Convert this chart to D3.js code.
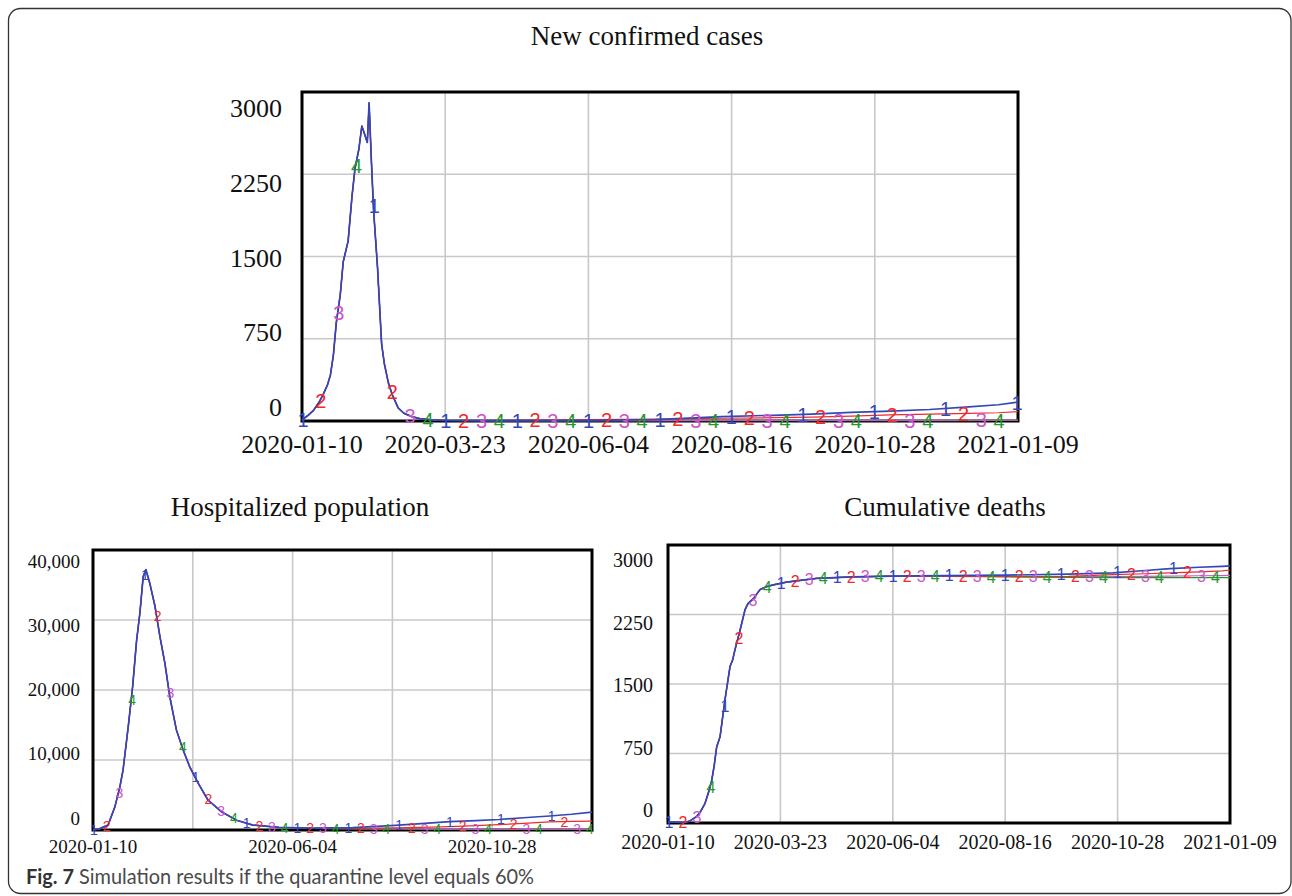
<!DOCTYPE html>
<html><head><meta charset="utf-8">
<script src="https://cdn.jsdelivr.net/npm/d3@7"></script>
<style>body{margin:0;background:#fff}svg{display:block}</style>
</head><body>
<svg id="c" width="1292" height="896"></svg>
<script>
// ---------------- DATA ----------------
const xTickLabels = ["2020-01-10","2020-03-23","2020-06-04","2020-08-16","2020-10-28","2021-01-09"];
const xTickDays = [0,73,146,219,292,365];
const hospXTickLabels = ["2020-01-10","2020-06-04","2020-10-28"];
const hospXTickDays = [0,146,292];
const seriesNames = ["1","2","3","4"];

// New confirmed cases
const casesTicks = [0,750,1500,2250,3000];
const casesEarlyDays = [0,3,6,9,11,13,14.5,16,17.5,19.5,21,23.5,25.5,27,29,30.5,32,33.3,34.2,35.3,36.5,38.5,40.6,42,44,46,49,52,56,60,65];
const casesEarly     = [10,50,100,180,250,330,420,600,900,1150,1450,1640,2050,2300,2480,2690,2610,2540,2900,2400,1920,1400,700,520,350,240,120,70,40,22,12];
const casesTailDays = [72,100,146,180,214,240,260,280,300,320,340,355,365];
const casesTail1 = [6,4,6,12,40,52,62,78,90,105,128,148,172];
const casesTail2 = [6,4,12,18,25,30,35,45,55,62,70,75,85];
const casesTail3 = [6,4,4,4,5,5,5,6,6,6,7,7,8];
const casesTail4 = [6,4,3,3,3,3,3,4,4,4,4,5,5];

// Hospitalized population
const hospTicks = [0,10000,20000,30000,40000];
const hospEarlyDays = [0,5,11,16,19.7,22,25.8,29,31.9,34.3,36.7,38.7,41.6,45.3,49,52.6,56.2,61,66,70.8,76.9,84,94,105,117];
const hospEarly     = [0,200,700,3300,6200,8600,14800,20500,27100,31000,36200,37200,35200,32000,27600,23800,19000,14300,11400,9000,6700,4300,2600,1400,700];
const hospTailDays = [136,160,190,221,240,261,280,297,315,334,350,365];
const hospTail1 = [380,260,350,650,900,1200,1350,1500,1750,2000,2250,2550];
const hospTail2 = [380,250,230,300,380,480,620,760,950,1150,1220,1260];
const hospTail3 = [380,240,180,150,140,130,130,130,130,130,130,130];
const hospTail4 = [380,240,170,130,110,100,100,100,100,100,100,100];

// Cumulative deaths
const deathTicks = [0,750,1500,2250,3000];
const deathEarlyDays = [0,5,10,14,18.6,21,24,26.5,28.4,30,31.6,33.8,37,40.3,42,43.5,46.8,50,52,55.4,59.8,64,68.4,77,96.5,120];
const deathEarly     = [10,10,5,20,70,120,210,340,460,620,820,930,1330,1690,1760,1870,2080,2300,2370,2420,2520,2550,2570,2600,2640,2655];
const deathTailDays = [146,180,220,260,289,310,326,345,360,365];
const deathTail1 = [2665,2670,2675,2685,2700,2725,2745,2760,2770,2775];
const deathTail2 = [2665,2665,2660,2662,2680,2690,2700,2710,2720,2730];
const deathTail3 = [2665,2665,2660,2660,2660,2662,2665,2668,2670,2672];
const deathTail4 = [2665,2660,2655,2650,2648,2648,2648,2648,2648,2648];

// ---------------- STYLE ----------------
const colors = ["#3447b8","#f02a2a","#cc55cc","#1f9a2a"];
const widths = [1.7,1.2,1.2,1.2];
const serif = "'Liberation Serif','Times New Roman',serif";
const sans = "'Liberation Sans',Arial,sans-serif";

const svg = d3.select("#c");
svg.append("rect").attr("x",8.5).attr("y",8.5).attr("width",1282.5).attr("height",885)
  .attr("rx",12).attr("fill","none").attr("stroke","#333").attr("stroke-width",1.3);

function buildSeries(earlyDays, early, tailDays, tails){
  return tails.map(t => {
    const days = earlyDays.concat(tailDays);
    const vals = early.concat(t);
    return days.map((d,i)=>({d, v: vals[i]}));
  });
}

function chart(cfg){
  const x = d3.scaleLinear().domain([0,365]).range([cfg.l,cfg.r]);
  const y = d3.scaleLinear().domain([0,cfg.yMax]).range([cfg.b,cfg.t]);
  const yLab = d3.scaleLinear().domain([0,cfg.yMax]).range(cfg.labRange);
  const g = svg.append("g");

  g.selectAll(".vg").data(cfg.gridDays.slice(1,-1)).join("line")
    .attr("x1",d=>x(d)).attr("x2",d=>x(d)).attr("y1",cfg.t).attr("y2",cfg.b)
    .attr("stroke","#c8c8c8").attr("stroke-width",1.6);
  g.selectAll(".hg").data(cfg.yTicks.slice(1,-1)).join("line")
    .attr("x1",cfg.l).attr("x2",cfg.r).attr("y1",d=>y(d)).attr("y2",d=>y(d))
    .attr("stroke","#c8c8c8").attr("stroke-width",1.6);

  g.append("rect").attr("x",cfg.l).attr("y",cfg.t).attr("width",cfg.r-cfg.l).attr("height",cfg.b-cfg.t)
    .attr("fill","none").attr("stroke","#000").attr("stroke-width",3);

  const line = d3.line().x(p=>x(p.d)).y(p=>y(p.v));
  [3,2,1,0].forEach(i=>{
    g.append("path").datum(cfg.series[i]).attr("d",line)
      .attr("fill","none").attr("stroke",colors[i]).attr("stroke-width",widths[i])
      .attr("stroke-linejoin","round");
  });

  function valueAt(s, day){
    const bis = d3.bisector(p=>p.d).left;
    const k = bis(s, day);
    if (k<=0) return s[0].v;
    if (k>=s.length) return s[s.length-1].v;
    const a = s[k-1], b = s[k];
    return a.v + (b.v-a.v)*(day-a.d)/(b.d-a.d);
  }
  const marks = [];
  for (let slot=0; slot*cfg.markStep<=cfg.markMax; slot++){
    const i = slot%4;
    const day = slot*cfg.markStep;
    marks.push({i, day, v: valueAt(cfg.series[i], day)});
  }
  g.selectAll(".mk").data(marks).join("text")
    .attr("x",m=>x(m.day)+cfg.markDx).attr("y",m=>y(m.v)).attr("dy","0.36em")
    .attr("text-anchor","middle").attr("font-family",sans).attr("font-size",cfg.markSize)
    .attr("fill",m=>colors[m.i]).text(m=>seriesNames[m.i]);

  g.selectAll(".yl").data(cfg.yTicks).join("text")
    .attr("x",cfg.yLabX).attr("y",d=>yLab(d)).attr("dy","0.35em")
    .attr("text-anchor","end").attr("font-family",serif).attr("font-size",cfg.tickSize)
    .attr("fill","#111").text(d=>cfg.fmt(d));
  g.selectAll(".xl").data(cfg.xLabDays).join("text")
    .attr("x",d=>x(d)).attr("y",cfg.xLabY)
    .attr("text-anchor","middle").attr("font-family",serif).attr("font-size",cfg.tickSize)
    .attr("fill","#111").text((d,i)=>cfg.xLabs[i]);
  g.append("text").attr("x",cfg.titleX).attr("y",cfg.titleY).attr("text-anchor","middle")
    .attr("font-family",serif).attr("font-size",cfg.titleSize).attr("fill","#111").text(cfg.title);
}

chart({
  title:"New confirmed cases", titleX:647, titleY:45, titleSize:27,
  l:302, r:1018, t:92, b:421, yMax:3000, yTicks:casesTicks, labRange:[407,108],
  gridDays:xTickDays, xLabDays:xTickDays, xLabs:xTickLabels, xLabY:453,
  yLabX:282, tickSize:26, fmt:d3.format("d"),
  series: buildSeries(casesEarlyDays, casesEarly, casesTailDays, [casesTail1,casesTail2,casesTail3,casesTail4]),
  markStep:9.1, markMax:364, markSize:20, markDx:1
});

chart({
  title:"Hospitalized population", titleX:300, titleY:516, titleSize:27,
  l:93, r:592, t:550, b:830, yMax:40000, yTicks:hospTicks, labRange:[818,561],
  gridDays:xTickDays, xLabDays:hospXTickDays, xLabs:hospXTickLabels, xLabY:853,
  yLabX:80, tickSize:19, fmt:d3.format(","),
  series: buildSeries(hospEarlyDays, hospEarly, hospTailDays, [hospTail1,hospTail2,hospTail3,hospTail4]),
  markStep:9.3, markMax:365, markSize:14, markDx:1
});

chart({
  title:"Cumulative deaths", titleX:945, titleY:516, titleSize:27,
  l:668, r:1230, t:545, b:823, yMax:3000, yTicks:deathTicks, labRange:[810,560],
  gridDays:xTickDays, xLabDays:xTickDays, xLabs:xTickLabels, xLabY:849,
  yLabX:653, tickSize:20, fmt:d3.format("d"),
  series: buildSeries(deathEarlyDays, deathEarly, deathTailDays, [deathTail1,deathTail2,deathTail3,deathTail4]),
  markStep:9.1, markMax:363, markSize:16, markDx:1
});

const cap = svg.append("text").attr("x",26).attr("y",884)
  .attr("font-family","Lato,'Open Sans',sans-serif").attr("font-size",20.5)
  .attr("textLength",508).attr("lengthAdjust","spacingAndGlyphs");
cap.append("tspan").attr("font-weight","bold").attr("fill","#333").text("Fig. 7");
cap.append("tspan").attr("fill","#4a4a4a").text(" Simulation results if the quarantine level equals 60%");
</script>
</body></html>
